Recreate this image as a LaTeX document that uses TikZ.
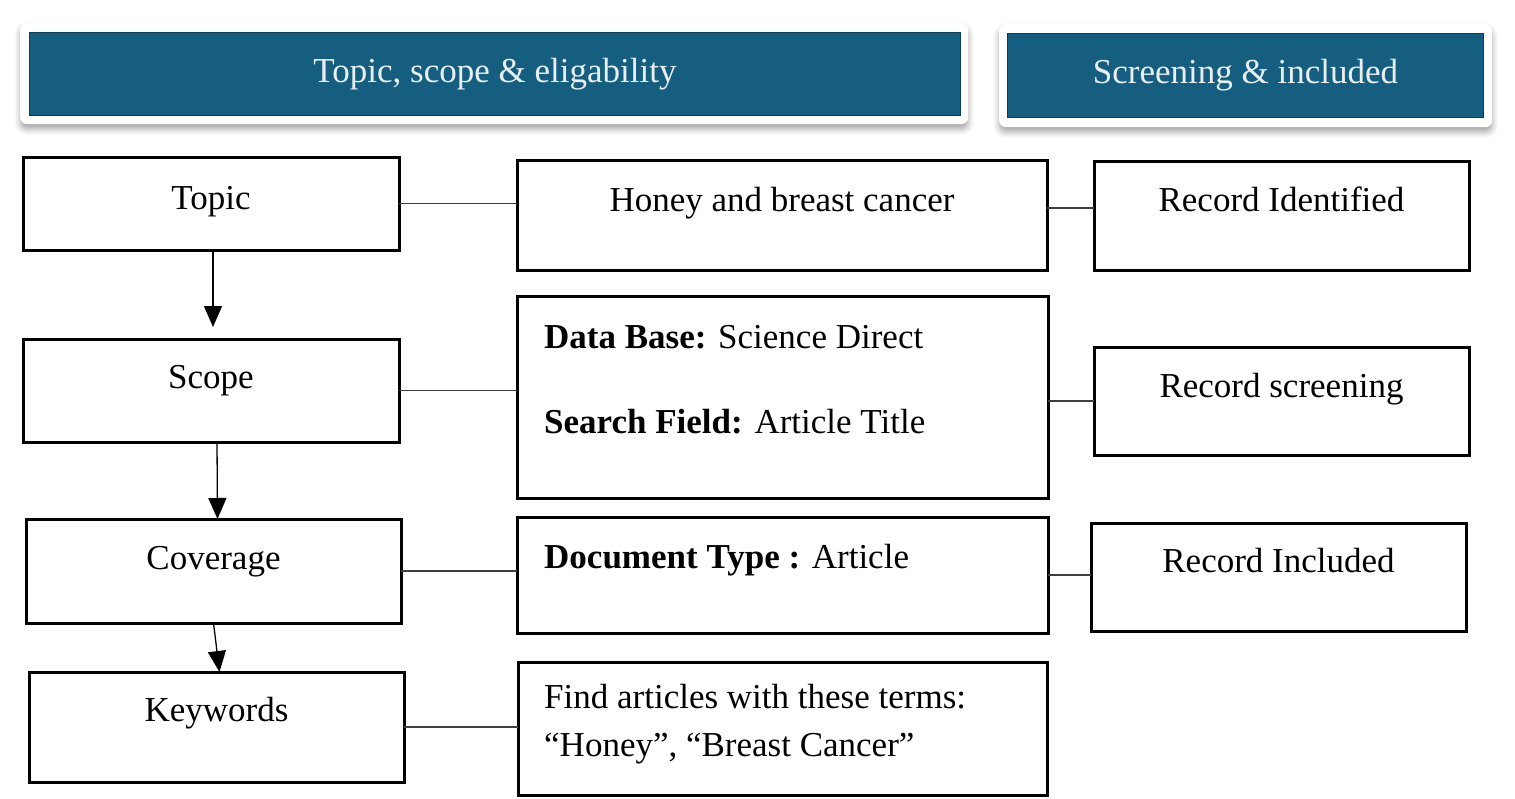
\documentclass[tikz,border=0pt]{standalone}
\usepackage{fontspec}
\setmainfont{Liberation Serif}
\usetikzlibrary{arrows.meta,shadows.blur}
\definecolor{headblue}{RGB}{22,94,128}
\begin{document}
\begin{tikzpicture}[x=1pt,y=-1pt,
  box/.style={draw,line width=3pt,anchor=north west,inner sep=0pt,outer sep=0pt},
  word/.style={anchor=base,inner sep=0pt,font=\fontsize{35}{41}\selectfont},
  lword/.style={word,anchor=base west},
  frame/.style={fill=white,rounded corners=7pt,anchor=north west,inner sep=0pt,
    blur shadow={shadow xshift=0pt,shadow yshift=-5pt,shadow blur radius=6pt,shadow opacity=35}},
  bar/.style={fill=headblue,draw=headblue!65!black,line width=1pt,anchor=north west,
    inner sep=0pt,text=white!90!headblue,font=\fontsize{35}{41}\selectfont},
  arr/.style={-{Triangle[width=18pt,length=21pt]},line width=1.3pt},
  link/.style={line width=1.4pt,draw=black!75}]
\useasboundingbox (0,0) rectangle (1515,798);

% headers
\node[frame,minimum width=948pt,minimum height=101pt] (frameA) at (20,23) {};
\node[bar,minimum width=931pt,minimum height=83pt] (headA) at (29,32) {Topic, scope \& eligability};
\node[frame,minimum width=493pt,minimum height=103pt] (frameB) at (999,24) {};
\node[bar,minimum width=476pt,minimum height=84pt] (headB) at (1007,33) {Screening \& included};

% left column
\node[box,minimum width=376pt,minimum height=93pt] (topic) at (23,157) {};
\node[word] (topicT) at ([yshift=-52pt]topic.north) {Topic};
\node[box,minimum width=376pt,minimum height=103pt] (scope) at (23,339) {};
\node[word] (scopeT) at ([yshift=-49pt]scope.north) {Scope};
\node[box,minimum width=375pt,minimum height=104pt] (coverage) at (26,519) {};
\node[word] (coverageT) at ([yshift=-50pt]coverage.north) {Coverage};
\node[box,minimum width=375pt,minimum height=110pt] (keywords) at (29,672) {};
\node[word] (keywordsT) at ([yshift=-49pt]keywords.north) {Keywords};

% middle column
\node[box,minimum width=530pt,minimum height=110pt] (honey) at (517,160) {};
\node[word] (honeyT) at ([yshift=-51pt]honey.north) {Honey and breast cancer};
\node[box,minimum width=531pt,minimum height=202pt] (database) at (517,296) {};
\node[lword] (databaseT) at ([xshift=27pt,yshift=-52pt]database.north west) {\textbf{Data Base:} Science Direct};
\node[lword] (fieldT) at ([yshift=-85pt]databaseT.base west) {\textbf{Search Field:} Article Title};
\node[box,minimum width=531pt,minimum height=116pt] (doctype) at (517,517) {};
\node[lword] (doctypeT) at ([xshift=27pt,yshift=-51pt]doctype.north west) {\textbf{Document Type :} Article};
\node[box,minimum width=529pt,minimum height=133pt] (terms) at (518,662) {};
\node[lword] (termsT) at ([xshift=26pt,yshift=-46pt]terms.north west) {Find articles with these terms:};
\node[lword] (termsU) at ([yshift=-48pt]termsT.base west) {“Honey”, “Breast Cancer”};

% right column
\node[box,minimum width=375pt,minimum height=109pt] (identified) at (1094,161) {};
\node[word] (identifiedT) at ([yshift=-50pt]identified.north) {Record Identified};
\node[box,minimum width=375pt,minimum height=108pt] (screening) at (1094,347) {};
\node[word] (screeningT) at ([yshift=-50pt]screening.north) {Record screening};
\node[box,minimum width=375pt,minimum height=108pt] (included) at (1091,523) {};
\node[word] (includedT) at ([yshift=-49pt]included.north) {Record Included};

% arrows down the left
\draw[arr] ([xshift=2pt]topic.south) -- ([xshift=2pt,yshift=12pt]scope.north);
\draw[arr] ([xshift=6pt]scope.south) -- ([xshift=4pt]coverage.north);
\draw[arr] (coverage.south) -- ([xshift=3pt]keywords.north);

% links across
\draw[link] (topic.east) -- (topic.east -| honey.west);
\draw[link] (scope.east) -- (scope.east -| database.west);
\draw[link] (coverage.east) -- (coverage.east -| doctype.west);
\draw[link] (keywords.east) -- (keywords.east -| terms.west);
\draw[link] ([yshift=7pt]honey.east) -- ([yshift=7pt]honey.east -| identified.west);
\draw[link] (screening.west -| database.east) -- (screening.west);
\draw[link] (doctype.east) -- (doctype.east -| included.west);
\end{tikzpicture}
\end{document}
